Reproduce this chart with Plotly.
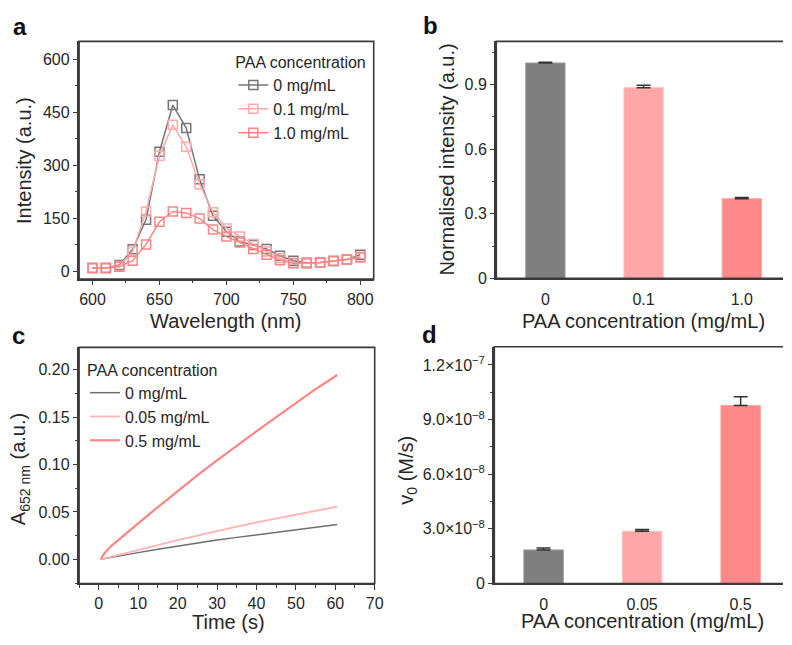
import plotly.graph_objects as go

W, H = 792, 645

# ---- panel a: emission spectra ----
wavelength = [600, 610, 620, 630, 640, 650, 660, 670, 680, 690, 700,
              710, 720, 730, 740, 750, 760, 770, 780, 790, 800]
int_0 = [9, 9, 18, 62, 146, 338, 470, 405, 260, 157, 112,
         84, 74, 63, 44, 30, 24, 25, 29, 33, 47]
int_01 = [9, 9, 15, 56, 169, 327, 414, 352, 246, 167, 121,
          98, 77, 56, 37, 24, 23, 25, 29, 33, 41]
int_10 = [9, 9, 13, 30, 76, 140, 169, 165, 149, 118, 98,
          81, 63, 47, 31, 23, 23, 25, 29, 33, 39]
labels_a = ["0 mg/mL", "0.1 mg/mL", "1.0 mg/mL"]

# ---- panel b: normalised intensity ----
conc_b = ["0", "0.1", "1.0"]
norm_int = [1.0, 0.885, 0.370]
norm_err = [0.003, 0.011, 0.005]

# ---- panel c: absorbance kinetics ----
time_s = [0.5, 1, 2, 3, 5, 7.5, 10, 15, 20, 25, 30, 35, 40, 45, 50, 55, 60.5]
abs_0 = [0, 0.0004, 0.0010, 0.0017, 0.0032, 0.0051, 0.0071, 0.0106, 0.0140,
         0.0172, 0.0203, 0.0232, 0.0260, 0.0288, 0.0315, 0.0341, 0.0368]
abs_005 = [0, 0.0005, 0.0015, 0.0025, 0.0046, 0.0072, 0.0098, 0.0150, 0.0202,
           0.0252, 0.0300, 0.0346, 0.0390, 0.0432, 0.0474, 0.0514, 0.0556]
abs_05 = [0, 0.0040, 0.0090, 0.0135, 0.0205, 0.0295, 0.0380, 0.0552, 0.0720,
          0.0885, 0.1045, 0.1200, 0.1350, 0.1500, 0.1650, 0.1795, 0.1945]
labels_c = ["0 mg/mL", "0.05 mg/mL", "0.5 mg/mL"]

# ---- panel d: initial velocity ----
conc_d = ["0", "0.05", "0.5"]
v0 = [1.84e-8, 2.87e-8, 9.78e-8]
v0_err = [1.1e-9, 0.9e-9, 4.7e-9]
v0_ticks = [0, 3e-8, 6e-8, 9e-8, 1.2e-7]
v0_ticktext = ["0", "3.0×10<sup>−8</sup>", "6.0×10<sup>−8</sup>",
               "9.0×10<sup>−8</sup>", "1.2×10<sup>−7</sup>"]

GRAY = "#7f7f7f"
PINK = "#ffa9aa"
RED = "#ff8585"
TXT = "#262626"
AX = "#3a3a3a"
FONT = "Liberation Sans, Arial, sans-serif"


def hx(p):
    return p / W


def vy(p):
    return 1 - p / H


fig = go.Figure()

for ys, col, name in zip([int_0, int_01, int_10], ["#767676", PINK, RED], labels_a):
    fig.add_trace(go.Scatter(
        x=wavelength, y=ys, mode="lines+markers", name=name,
        line=dict(color=col, width=1.5),
        marker=dict(symbol="square-open", size=9, color=col,
                    line=dict(width=1.5, color=col)),
        xaxis="x", yaxis="y", legend="legend"))

fig.add_trace(go.Bar(
    x=[0, 1, 2], y=norm_int, width=0.4,
    marker=dict(color=[GRAY, "#ffa6a8", "#ff8888"],
                line=dict(width=1, color=["#9a9a9a", "#ffc0c1", "#ffa3a3"])),
    error_y=dict(type="data", array=norm_err, arrayminus=[0, 0, 0],
                 symmetric=False, color="#333333", thickness=1.5, width=7),
    showlegend=False, xaxis="x2", yaxis="y2"))

for ys, col, wd, name in zip([abs_0, abs_005, abs_05], ["#6e6e6e", "#ffb3b3", RED],
                             [1.5, 1.8, 2.2], labels_c):
    fig.add_trace(go.Scatter(
        x=time_s, y=ys, mode="lines", name=name,
        line=dict(color=col, width=wd),
        xaxis="x3", yaxis="y3", legend="legend2"))

fig.add_trace(go.Bar(
    x=[0, 1, 2], y=v0, width=0.4,
    marker=dict(color=[GRAY, "#ffa6a8", "#ff8888"],
                line=dict(width=1, color=["#9a9a9a", "#ffc0c1", "#ffa3a3"])),
    error_y=dict(type="data", array=v0_err, arrayminus=[0, 0, 0],
                 symmetric=False, color="#333333", thickness=1.5, width=7),
    showlegend=False, xaxis="x4", yaxis="y4"))

common = dict(showline=True, linecolor=AX, linewidth=1.6, showgrid=False,
              zeroline=False, ticks="outside", ticklen=4.5, tickwidth=1.4,
              tickcolor=AX, tickfont=dict(size=16, color=TXT, family=FONT))
bar_x = {**common, "tickcolor": "rgba(0,0,0,0)", "ticklen": 6}

fig.update_layout(
    width=W, height=H, margin=dict(l=0, r=0, t=0, b=0),
    paper_bgcolor="white", plot_bgcolor="white",
    font=dict(family=FONT, color=TXT),
    xaxis=dict(domain=[hx(80), hx(378)], anchor="y", range=[590, 810],
               tick0=600, dtick=50,
               minor=dict(ticks="outside", dtick=25, ticklen=2.5, tickcolor=AX),
               **common),
    yaxis=dict(domain=[vy(283), vy(42)], anchor="x", range=[-22, 650],
               tick0=0, dtick=150,
               minor=dict(ticks="outside", dtick=75, ticklen=2.5, tickcolor=AX),
               **common),
    xaxis2=dict(domain=[hx(502), 1], anchor="y2", range=[-0.5, 2.42],
                tickvals=[0, 1, 2], ticktext=conc_b, **bar_x),
    yaxis2=dict(domain=[vy(282.3), vy(42)], anchor="x2", range=[0, 1.1],
                tickvals=[0, 0.3, 0.6, 0.9], ticktext=["0", "0.3", "0.6", "0.9"],
                minor=dict(ticks="outside", tick0=0.15, dtick=0.3, ticklen=2.5,
                           tickcolor=AX),
                **common),
    xaxis3=dict(domain=[hx(80), hx(379)], anchor="y3", range=[-5, 70],
                tick0=0, dtick=10,
                minor=dict(ticks="outside", dtick=5, ticklen=2.5, tickcolor=AX),
                **common),
    yaxis3=dict(domain=[vy(591.7), vy(352.3)], anchor="x3",
                range=[-0.0254, 0.2236], tick0=0, dtick=0.05, tickformat=".2f",
                minor=dict(ticks="outside", dtick=0.025, ticklen=2.5, tickcolor=AX),
                **common),
    xaxis4=dict(domain=[hx(500), 1], anchor="y4", range=[-0.5, 2.43],
                tickvals=[0, 1, 2], ticktext=conc_d, **bar_x),
    yaxis4=dict(domain=[vy(591.7), vy(351.7)], anchor="x4", range=[0, 1.3e-7],
                tickvals=v0_ticks, ticktext=v0_ticktext,
                minor=dict(ticks="outside", tick0=1.5e-8, dtick=3e-8, ticklen=2.5,
                           tickcolor=AX),
                **common),
    legend=dict(x=hx(236), y=vy(48), xanchor="left", yanchor="top",
                bgcolor="rgba(0,0,0,0)", font=dict(size=16, color=TXT),
                title=dict(text="PAA concentration", font=dict(size=16, color=TXT)),
                tracegroupgap=0),
    legend2=dict(x=hx(86), y=vy(360), xanchor="left", yanchor="top",
                 bgcolor="rgba(0,0,0,0)", font=dict(size=16, color=TXT),
                 title=dict(text="PAA concentration", font=dict(size=16, color=TXT)),
                 tracegroupgap=0),
)

# panel frames: closed boxes for the line plots, open on the right for the bars
shapes = []
for xa, ya in [("x", "y"), ("x3", "y3")]:
    shapes.append(dict(type="path", xref=f"{xa} domain", yref=f"{ya} domain",
                       path="M 0 0 L 1 0 L 1 1 L 0 1 Z",
                       line=dict(color=AX, width=1.6), layer="above"))
for xa, ya in [("x2", "y2"), ("x4", "y4")]:
    shapes.append(dict(type="path", xref=f"{xa} domain", yref=f"{ya} domain",
                       path="M 1 1 L 0 1 L 0 0 L 1 0",
                       line=dict(color=AX, width=1.6), layer="above"))

annotations = [
    # panel letters
    dict(text="<b>a</b>", x=hx(20), y=vy(27)),
    dict(text="<b>b</b>", x=hx(435), y=vy(26)),
    dict(text="<b>c</b>", x=hx(19), y=vy(340)),
    dict(text="<b>d</b>", x=hx(434), y=vy(339)),
]
for a in annotations:
    a.update(xref="paper", yref="paper", showarrow=False, xanchor="center",
             yanchor="middle", font=dict(size=24, color="#111111", family=FONT))

titles = [
    dict(text="Wavelength (nm)", x=hx(229), y=vy(326), textangle=0),
    dict(text="Intensity (a.u.)", x=hx(25), y=vy(162.5), textangle=-90),
    dict(text="PAA concentration (mg/mL)", x=hx(651), y=vy(326), textangle=0),
    dict(text="Normalised intensity (a.u.)", x=hx(452), y=vy(162), textangle=-90),
    dict(text="Time (s)", x=hx(231), y=vy(631), textangle=0),
    dict(text="A<sub>652 nm</sub> (a.u.)", x=hx(20), y=vy(476), textangle=-90),
    dict(text="PAA concentration (mg/mL)", x=hx(650), y=vy(630), textangle=0),
    dict(text="v<sub>0</sub> (M/s)", x=hx(412), y=vy(477), textangle=-90),
]
for t in titles:
    t.update(xref="paper", yref="paper", showarrow=False, xanchor="center",
             yanchor="middle", font=dict(size=20, color=TXT, family=FONT))

fig.update_layout(annotations=annotations + titles, shapes=shapes)

fig.write_html("out.html")
